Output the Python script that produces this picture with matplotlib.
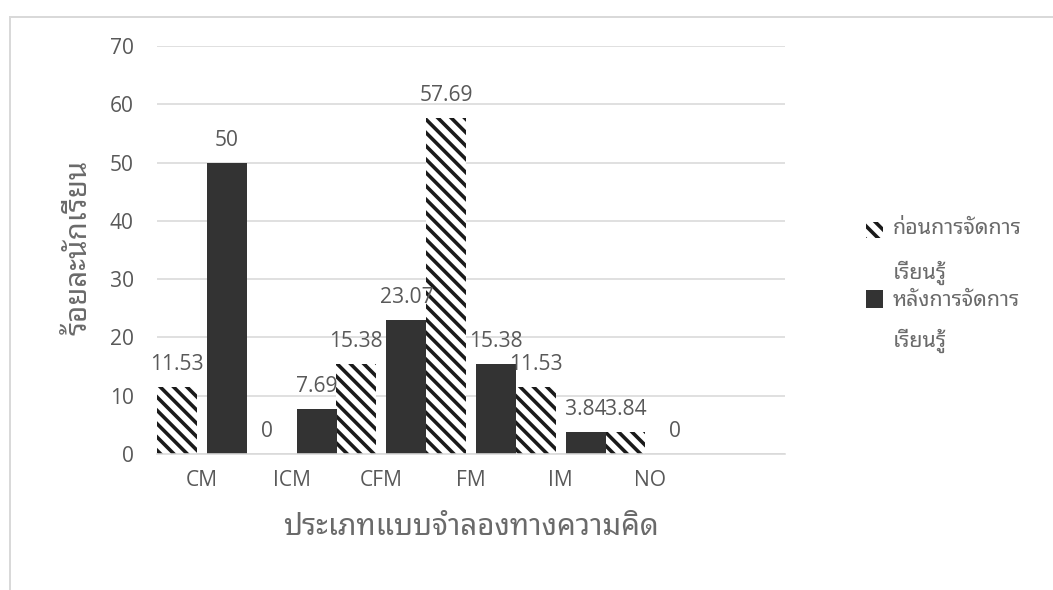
import numpy as np
import matplotlib
matplotlib.use("Agg")
import matplotlib.pyplot as plt
from matplotlib import font_manager as fm
from matplotlib.ft2font import FT2Font
from matplotlib.patches import Rectangle

# ---------------- data ----------------
categories = ["CM", "ICM", "CFM", "FM", "IM", "NO", ""]
before = [11.53, 0, 15.38, 57.69, 11.53, 3.84]      # ก่อนการจัดการเรียนรู้ (hatched)
after = [50, 7.69, 23.07, 15.38, 3.84, 0]           # หลังการจัดการเรียนรู้ (dark)
series_names = ["ก่อนการจัดการ\nเรียนรู้", "หลังการจัดการ\nเรียนรู้"]
x_title = "ประเภทแบบจำลองทางความคิด"
y_title = "ร้อยละนักเรียน"
y_ticks = [0, 10, 20, 30, 40, 50, 60, 70]

# ---------------- fonts ----------------
thai = None
cands = []
for f in fm.fontManager.ttflist:
    try:
        cmap = FT2Font(f.fname).get_charmap()
        if 0x0E01 in cmap and 0x0E40 in cmap and 0x0E49 in cmap:
            cands.append(f.name)
    except Exception:
        pass
for pref in ["Noto Sans Thai Looped", "Noto Sans Thai", "Loma", "Garuda", "Sarabun", "Tlwg", "Kinnari"]:
    for c in cands:
        if c.startswith(pref):
            thai = c
            break
    if thai:
        break
if thai is None and cands:
    thai = cands[0]
FAM = ["Open Sans"] + ([thai] if thai else []) + ["DejaVu Sans"]
plt.rcParams["font.family"] = FAM

DPI = 80
W, H = 1053, 590


def pt(px):
    return px * 72.0 / DPI


plt.rcParams["hatch.linewidth"] = pt(3.6)
TXT = "#595959"
THAI_TXT = "#6a6a6a"
THAI_W = "light"

fig = plt.figure(figsize=(W / DPI, H / DPI), dpi=DPI)
fig.patch.set_facecolor("white")

# outer chart frame
fig.patches.append(Rectangle((10 / W, -0.2), 2.0, 1 - 17 / H + 0.2, transform=fig.transFigure,
                             fill=False, edgecolor="#d9d9d9", lw=pt(2), clip_on=False))

L, R, T, B = 157, 785, 46, 454
ax = fig.add_axes([L / W, 1 - B / H, (R - L) / W, (B - T) / H])

x = np.arange(len(before))
bw = 0.446
off = 0.279
ax.bar(x - off, before, width=bw, color="white", edgecolor="#1a1a1a", linewidth=0,
       hatch="\\\\", zorder=2)
ax.bar(x + off, after, width=bw, color="#333333", linewidth=0, zorder=2)

for xs, vals in ((x - off, before), (x + off, after)):
    for xi, v in zip(xs, vals):
        ax.annotate(f"{v:g}", (xi, v), xytext=(0, pt(17)), textcoords="offset points",
                    ha="center", va="baseline", fontsize=pt(21), color=TXT)

ax.set_xlim(-0.5, len(categories) - 0.5)
ax.set_ylim(0, 70)
ax.set_xticks(np.arange(len(categories)))
ax.set_xticklabels(categories)
ax.set_yticks(y_ticks)
ax.yaxis.grid(True, color="#d9d9d9", lw=pt(1.6))
ax.set_axisbelow(True)
for s in ("left", "right", "top"):
    ax.spines[s].set_visible(False)
ax.spines["bottom"].set_color("#d9d9d9")
ax.spines["bottom"].set_linewidth(pt(1.6))
ax.spines["bottom"].set_zorder(3)
ax.tick_params(axis="both", length=0, labelsize=pt(21), labelcolor=TXT)
ax.tick_params(axis="y", pad=pt(23))
ax.tick_params(axis="x", pad=pt(16))

ax.set_xlabel(x_title, fontsize=pt(29.5), color=THAI_TXT, fontweight=THAI_W)
ax.xaxis.label.set_va("center")
ax.xaxis.set_label_coords(0.5, (B - 527) / (B - T))
ax.set_ylabel(y_title, fontsize=pt(29.5), color=THAI_TXT, va="center", ha="center",
              rotation_mode="default", fontweight=THAI_W)
ax.yaxis.set_label_coords((79 - L) / (R - L), (B - 247) / (B - T))

# legend (manual, Excel-like layout)
fig.patches.append(Rectangle((866 / W, 1 - 238 / H), 17 / W, 16 / H, transform=fig.transFigure,
                             facecolor="white", edgecolor="#1a1a1a", linewidth=0, hatch="\\\\"))
fig.patches.append(Rectangle((866 / W, 1 - 308 / H), 17 / W, 18 / H, transform=fig.transFigure,
                             facecolor="#333333", linewidth=0))
l1a, l1b = series_names[0].split("\n")
l2a, l2b = series_names[1].split("\n")
for txt, yy in ((l1a, 229), (l1b, 273), (l2a, 300), (l2b, 341)):
    fig.text(893 / W, 1 - yy / H, txt, ha="left", va="center", fontsize=pt(21.5), color=THAI_TXT,
             fontweight=THAI_W)

fig.savefig("out.png", dpi=DPI, facecolor="white")
